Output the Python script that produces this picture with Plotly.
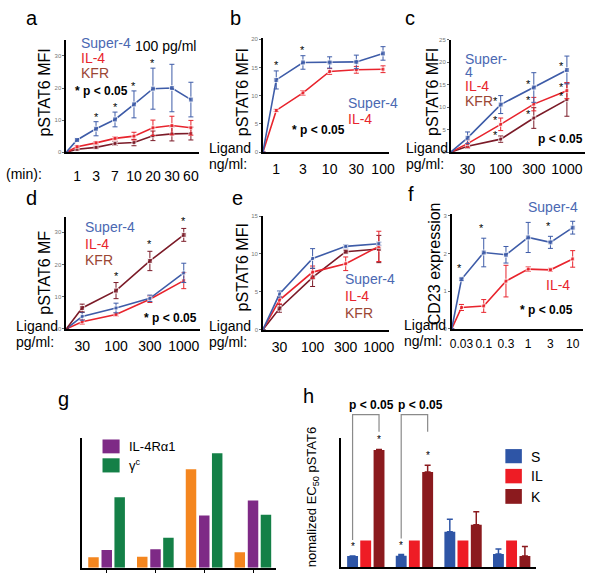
import plotly.graph_objects as go

W, H = 600, 586

BLUE = '#3E5CA8'
RED = '#E8242D'
MAROON = '#7B1B28'
BLUE_T = '#4A68B2'
RED_T = '#E8242D'
BROWN_T = '#9B4634'
ORANGE = '#F4861F'
PURPLE = '#7E2A86'
GREEN = '#148047'
H_BLUE = '#2E55A6'
H_RED = '#EE1C25'
H_DARK = '#8B1A1E'

# ---------------- data ----------------
a_labels = ['1', '3', '7', '10', '20', '30', '60']
a_super = [3.8, 7.3, 10.2, 14.9, 19.8, 20.0, 16.4]
a_super_err = [0.3, 2.2, 2.3, 4.2, 6.4, 7.4, 5.4]
a_il4 = [1.7, 2.9, 4.3, 5.0, 7.6, 8.3, 7.6]
a_il4_err = [0.3, 0.4, 0.5, 1.2, 2.4, 2.9, 2.3]
a_kfr = [0.9, 1.5, 2.7, 3.0, 5.1, 5.7, 5.8]
a_kfr_err = [0.3, 0.4, 0.6, 1.0, 1.5, 2.2, 2.0]
a_sig = [False, True, True, True, True, False, False]

b_labels = ['1', '3', '10', '30', '100']
b_super = [12.8, 15.9, 15.9, 16.0, 17.5]
b_super_err = [1.6, 1.2, 1.0, 1.2, 1.2]
b_il4 = [7.4, 10.5, 14.3, 14.6, 14.7]
b_il4_err = [0.2, 0.4, 0.5, 0.6, 0.6]
b_sig = [True, True, False, False, False]

c_labels = ['30', '100', '300', '1000']
c_super = [3.2, 10.6, 14.4, 18.3]
c_super_err = [1.3, 2.0, 3.3, 3.1]
c_il4 = [1.9, 6.2, 10.7, 13.7]
c_il4_err = [0.8, 1.4, 1.5, 1.8]
c_kfr = [1.3, 2.9, 7.6, 11.7]
c_kfr_err = [0.4, 0.7, 2.3, 3.7]
c_sig = [False, True, True, True]

d_labels = ['30', '100', '300', '1000']
d_super = [3.9, 6.5, 9.5, 17.4]
d_super_err = [1.2, 1.5, 1.0, 3.0]
d_il4 = [2.2, 4.5, 9.2, 15.0]
d_il4_err = [0.7, 0.5, 1.0, 2.5]
d_kfr = [6.5, 11.9, 21.1, 29.2]
d_kfr_err = [1.2, 2.5, 3.0, 2.0]
d_sig = [False, True, True, True]

e_labels = ['30', '100', '300', '1000']
e_super = [4.7, 9.4, 11.0, 11.35]
e_super_err = [0.4, 1.3, 0.2, 0.2]
e_il4 = [3.9, 7.6, 8.7, 11.0]
e_il4_err = [0.5, 0.8, 0.9, 2.0]
e_kfr = [2.8, 6.9, 10.3, 10.65]
e_kfr_err = [0.5, 1.2, 0.2, 1.8]

f_labels = ['0.03', '0.1', '0.3', '1', '3', '10']
f_super = [1.32, 2.03, 1.97, 2.43, 2.30, 2.69]
f_super_err = [0.03, 0.38, 0.22, 0.40, 0.16, 0.17]
f_il4 = [0.57, 0.61, 1.27, 1.59, 1.57, 1.86]
f_il4_err = [0.08, 0.17, 0.42, 0.06, 0.04, 0.22]
f_sig = [True, True, False, False, True, False]

g_orange = [3.2, 3.4, 29.9, 4.7]
g_purple = [5.4, 5.6, 15.9, 20.4]
g_green = [21.4, 9.1, 34.7, 16.1]

h_S = [0.42, 0.43, 1.32, 0.49]
h_S_err = [0.0, 0.04, 0.47, 0.19]
h_IL = [1.0, 1.0, 1.0, 1.0]
h_K = [4.38, 3.56, 1.59, 0.42]
h_K_err = [0.02, 0.25, 0.48, 0.35]

FONT = 'Arial'

fig = go.Figure()
layout = {}
annotations = []
shapes = []


def ax_names(n):
    s = '' if n == 1 else str(n)
    return 'x' + s, 'y' + s, 'xaxis' + s, 'yaxis' + s


def setup(n, xpx, ypx, xr, yr, ytv=None, xtv=None, xtt=None, xfont=14,
          xticklen=3, xtickcolor='rgba(0,0,0,0)'):
    xn, yn, xa, ya = ax_names(n)
    layout[xa] = dict(domain=[xpx[0] / W, xpx[1] / W], range=xr, anchor=yn,
                      showline=True, linecolor='black', linewidth=1.5,
                      showgrid=False, zeroline=False,
                      ticks='outside' if xtv is not None else '',
                      ticklen=xticklen, tickcolor=xtickcolor, tickwidth=1,
                      tickvals=xtv, ticktext=xtt, tickangle=0,
                      showticklabels=xtt is not None,
                      tickfont=dict(size=xfont, color='black', family=FONT),
                      fixedrange=True)
    layout[ya] = dict(domain=[1 - ypx[1] / H, 1 - ypx[0] / H], range=yr,
                      anchor=xn, showline=True, linecolor='black',
                      linewidth=1.5, showgrid=False, zeroline=False,
                      ticks='outside' if ytv is not None else '',
                      ticklen=2, tickcolor='#666', tickwidth=1,
                      tickvals=ytv, showticklabels=ytv is not None,
                      tickfont=dict(size=6, color='#777', family=FONT),
                      fixedrange=True)


def series(n, x0, vals, errs, color, msize=5, symbol='square'):
    xn, yn, _, _ = ax_names(n)
    xs = [x0] + list(range(1, len(vals) + 1))
    fig.add_trace(go.Scatter(
        x=xs, y=[0] + list(vals), xaxis=xn, yaxis=yn, mode='lines+markers',
        line=dict(color=color, width=1.6),
        marker=dict(color=color, size=[0] + [msize] * len(vals), symbol=symbol),
        error_y=dict(type='data', array=[0] + list(errs), color=color,
                     thickness=1, width=2.5),
        cliponaxis=False, showlegend=False, hoverinfo='skip'))


def star(n, x, y, yshift=0, xshift=0, size=11):
    xn, yn, _, _ = ax_names(n)
    annotations.append(dict(x=x, y=y, xref=xn, yref=yn, text='*',
                            showarrow=False, yanchor='bottom',
                            yshift=yshift, xshift=xshift,
                            font=dict(size=size, color='black', family=FONT)))


def text(x, y, s, color='black', size=14, bold=False, anchor='left',
         angle=0):
    if bold:
        s = '<b>' + s + '</b>'
    annotations.append(dict(x=x / W, y=1 - y / H, xref='paper', yref='paper',
                            text=s, showarrow=False, xanchor=anchor,
                            yanchor='middle', textangle=angle,
                            font=dict(size=size, color=color, family=FONT)))


def legend_sq(x0, x1, y0, y1, color):
    shapes.append(dict(type='rect', xref='paper', yref='paper',
                       x0=x0 / W, x1=x1 / W, y0=1 - y1 / H, y1=1 - y0 / H,
                       fillcolor=color, line=dict(width=0)))


# ---------------- panel a ----------------
setup(1, (65, 199), (37, 150.7), [0.43, 7.41], [0, 35.1], [0, 10, 20, 30],
      list(range(1, 8)), a_labels, xfont=14, xticklen=10)
series(1, 0.43, a_kfr, a_kfr_err, MAROON, 4)
series(1, 0.43, a_il4, a_il4_err, RED, 4)
series(1, 0.43, a_super, a_super_err, BLUE, 5)
for i, s in enumerate(a_sig):
    if s:
        star(1, i + 1, a_super[i] + a_super_err[i], yshift=-3)
text(78, 40, 'Super-4', BLUE_T)
text(133, 43, '100 pg/ml')
text(78, 56, 'IL-4', RED_T)
text(78, 71, 'KFR', BROWN_T)
text(72, 89, '* p < 0.05', size=12, bold=True)
text(2, 173, '(min):')
text(43, 90, 'pSTAT6 MFI', size=16, anchor='center', angle=-90)
text(30, 15, 'a', size=20, anchor='center')

# ---------------- panel b ----------------
setup(2, (264, 392), (35, 150.7), [0.5, 5.24], [0, 20.3], [0, 5, 10, 15, 20],
      list(range(1, 6)), b_labels, xfont=14, xticklen=3)
series(2, 0.5, b_il4, b_il4_err, RED, 4)
series(2, 0.5, b_super, b_super_err, BLUE, 5)
for i, s in enumerate(b_sig):
    if s:
        star(2, i + 1, b_super[i] + b_super_err[i], yshift=-2)
text(348, 101, 'Super-4', BLUE_T)
text(348, 117, 'IL-4', RED_T)
text(291, 128, '* p < 0.05', size=12, bold=True)
text(207, 146, 'Ligand')
text(207, 163, 'ng/ml:')
text(243, 90, 'pSTAT6 MFI', size=16, anchor='center', angle=-90)
text(236, 15, 'b', size=20, anchor='center')

# ---------------- panel c ----------------
setup(3, (454, 590), (37.3, 150.7), [0.49, 4.55], [0, 25],
      [0, 5, 10, 15, 20, 25], list(range(1, 5)), c_labels, xfont=14,
      xticklen=3)
series(3, 0.49, c_kfr, c_kfr_err, MAROON, 4)
series(3, 0.49, c_il4, c_il4_err, RED, 4)
series(3, 0.49, c_super, c_super_err, BLUE, 5)
for i, s in enumerate(c_sig):
    if s:
        star(3, i + 1, c_super[i], yshift=-4, xshift=-5)
        star(3, i + 1, c_il4[i], yshift=-4, xshift=-5)
        star(3, i + 1, c_kfr[i], yshift=-4, xshift=-5)
text(466, 57, 'Super-', BLUE_T)
text(466, 70, '4', BLUE_T)
text(466, 84, 'IL-4', RED_T)
text(466, 99, 'KFR', BROWN_T)
text(540, 137, 'p < 0.05', size=12, bold=True)
text(407, 146, 'Ligand')
text(407, 163, 'pg/ml:')
text(435, 90, 'pSTAT6 MFI', size=16, anchor='center', angle=-90)
text(413, 15, 'c', size=20, anchor='center')

# ---------------- panel d ----------------
setup(4, (65, 200), (216.7, 329.3), [0.53, 4.47], [0, 34.6], [0, 10, 20, 30],
      list(range(1, 5)), d_labels, xfont=14, xticklen=4)
series(4, 0.53, d_il4, d_il4_err, RED, 4)
series(4, 0.53, d_super, d_super_err, BLUE, 4)
series(4, 0.53, d_kfr, d_kfr_err, MAROON, 5)
for i, s in enumerate(d_sig):
    if s:
        star(4, i + 1, d_kfr[i] + d_kfr_err[i], yshift=-1)
text(82, 226, 'Super-4', BLUE_T)
text(82, 243, 'IL-4', RED_T)
text(82, 260, 'KFR', BROWN_T)
text(142, 318, '* p < 0.05', size=12, bold=True)
text(12, 326, 'Ligand')
text(12, 343, 'pg/ml:')
text(43, 272, 'pSTAT6 MF', size=16, anchor='center', angle=-90)
text(30, 197, 'd', size=20, anchor='center')

# ---------------- panel e ----------------
setup(5, (264, 392), (215.3, 330), [0.5, 4.32], [0, 15], [0, 5, 10, 15],
      list(range(1, 5)), e_labels, xfont=14, xticklen=4)
series(5, 0.5, e_kfr, e_kfr_err, MAROON, 5)
series(5, 0.5, e_il4, e_il4_err, RED, 4)
series(5, 0.5, e_super, e_super_err, BLUE, 4)
text(345, 279, 'Super-4', BLUE_T)
text(345, 296, 'IL-4', RED_T)
text(345, 313, 'KFR', BROWN_T)
text(207, 326, 'Ligand')
text(207, 343, 'pg/ml:')
text(243, 267, 'pSTAT6 MFI', size=16, anchor='center', angle=-90)
text(238, 197, 'e', size=20, anchor='center')

# ---------------- panel f ----------------
setup(6, (455, 588), (213.3, 329.3), [0.56, 6.47], [0, 3.05], [0, 1, 2, 3],
      list(range(1, 7)), f_labels, xfont=12, xticklen=3)
series(6, 0.56, f_il4, f_il4_err, RED, 4)
series(6, 0.56, f_super, f_super_err, BLUE, 5)
for i, s in enumerate(f_sig):
    if s:
        star(6, i + 1, f_super[i] + f_super_err[i], yshift=2, xshift=-2)
text(530, 206, 'Super-4', BLUE_T)
text(548, 285, 'IL-4', RED_T)
text(522, 310, '* p < 0.05', size=12, bold=True)
text(405, 325, 'Ligand')
text(405, 342, 'ng/ml:')
text(437, 263, 'CD23 expression', size=16, anchor='center', angle=-90)
text(414, 193, 'f', size=20, anchor='center')

# ---------------- panel g ----------------
setup(7, (81, 277.7), (440, 570.7), [-0.507, 3.48], [0, 39.2], None,
      [0, 1, 2, 3], None, xticklen=3, xtickcolor='black')
gx = list(range(len(g_orange)))
for vals, col, off in ((g_orange, ORANGE, -0.38), (g_purple, PURPLE, -0.108),
                       (g_green, GREEN, 0.157)):
    fig.add_trace(go.Bar(x=gx, y=vals, xaxis='x7', yaxis='y7', width=0.215,
                         offset=off, marker=dict(color=col, line=dict(width=0)),
                         showlegend=False, hoverinfo='skip'))
legend_sq(101.7, 119, 441, 455, PURPLE)
legend_sq(101.7, 119, 460, 474.3, GREEN)
text(126, 448, 'IL-4Rα1', size=13)
text(126, 467, 'γ<sup>c</sup>', size=13)
text(62, 400, 'g', size=20, anchor='center')

# ---------------- panel h ----------------
hxr = [-0.502, 3.496]
hyr = [0, 4.81]
setup(8, (343.3, 540), (440, 570), hxr, hyr, None, None, None)
hx = list(range(len(h_S)))
for vals, errs, col, off in ((h_S, h_S_err, H_BLUE, -0.382),
                             (h_IL, None, H_RED, -0.112),
                             (h_K, h_K_err, H_DARK, 0.162)):
    kw = {}
    if errs is not None:
        kw['error_y'] = dict(type='data', symmetric=False, array=errs,
                             arrayminus=[0] * len(errs), color=col,
                             thickness=1.5, width=3)
    fig.add_trace(go.Bar(x=hx, y=vals, xaxis='x8', yaxis='y8', width=0.224,
                         offset=off, marker=dict(color=col, line=dict(width=0)),
                         showlegend=False, hoverinfo='skip', **kw))


def hpx(i):
    return 343.3 + (i - hxr[0]) * (540 - 343.3) / (hxr[1] - hxr[0])


def hpy(v):
    return 570 - v * (130 / hyr[1])


for g in (0, 1):
    xl = hpx(g - 0.27)
    xr_ = hpx(g + 0.274)
    yl = hpy(h_S[g] + h_S_err[g] + 0.6)
    yr_ = hpy(5.06)
    yt = hpy(5.7)
    path = 'M {0},{1} L {0},{2} L {3},{2} L {3},{4}'.format(
        xl / W, 1 - yl / H, 1 - yt / H, xr_ / W, 1 - yr_ / H)
    shapes.append(dict(type='path', xref='paper', yref='paper', path=path,
                       line=dict(color='#8A8A8A', width=1.2)))
    text((xl + xr_) / 2 + 6, 406, 'p < 0.05', size=12, bold=True,
         anchor='center')
    star(8, g - 0.27, h_S[g] + h_S_err[g], yshift=2, size=10)
    star(8, g + 0.274, h_K[g] + h_K_err[g], yshift=2, size=10)

legend_sq(509.3, 526, 450.7, 465, H_BLUE)
legend_sq(509.3, 526, 470.7, 485.3, H_RED)
legend_sq(509.3, 526, 491, 506, H_DARK)
text(533, 459, 'S', size=14)
text(533, 478, 'IL', size=14)
text(533, 499, 'K', size=14)
text(315, 499, 'nomalized EC<sub>50</sub> pSTAT6', size=13, anchor='center',
     angle=-90)
text(310, 397, 'h', size=20, anchor='center')

fig.update_layout(**layout)
fig.update_layout(width=W, height=H, margin=dict(l=0, r=0, t=0, b=0),
                  paper_bgcolor='white', plot_bgcolor='white',
                  showlegend=False, barmode='overlay',
                  annotations=annotations, shapes=shapes,
                  font=dict(family=FONT))
fig.write_html('out.html', config={'displayModeBar': False},
               post_script="document.body.style.margin='0';"
                           "document.body.style.padding='0';")
